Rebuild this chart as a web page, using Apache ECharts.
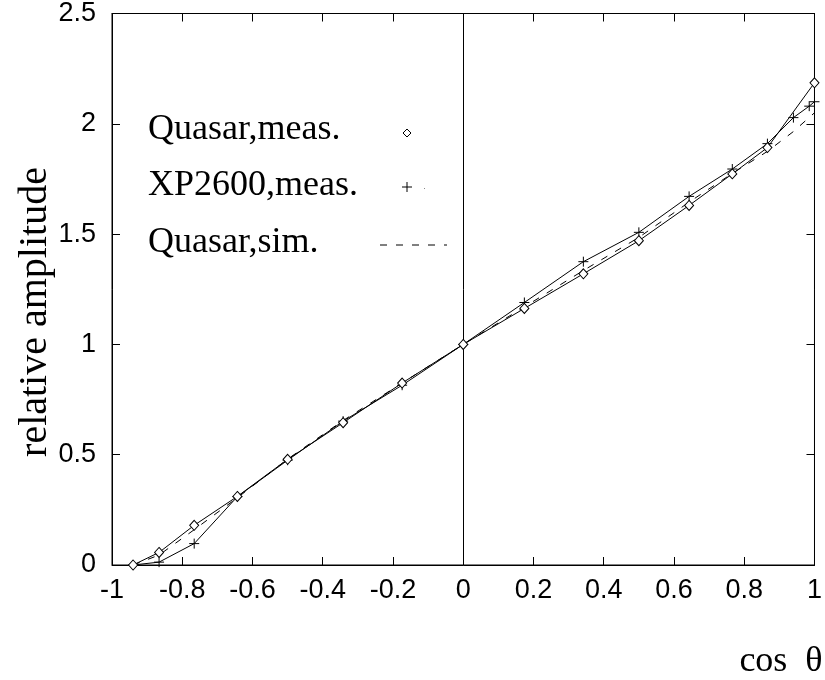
<!DOCTYPE html>
<html><head><meta charset="utf-8">
<script src="https://cdn.jsdelivr.net/npm/echarts@6/dist/echarts.min.js"></script>
<style>html,body{margin:0;padding:0;background:#fff}#c{width:825px;height:680px}</style>
</head><body><div id="c"></div>
<script>
const quasarMeasX = [-0.940, -0.866, -0.766, -0.643, -0.500, -0.342, -0.174, 0, 0.174, 0.342, 0.500, 0.643, 0.766, 0.866, 1.000];
const quasarMeas  = [0.0, 0.057, 0.18, 0.311, 0.479, 0.645, 0.825, 1.0, 1.163, 1.32, 1.47, 1.63, 1.773, 1.892, 2.186];
const xp2600X = [-0.940, -0.866, -0.766, -0.643, -0.500, -0.342, -0.174, 0, 0.174, 0.342, 0.500, 0.643, 0.766, 0.866, 0.940, 0.985, 1.000];
const xp2600Meas = [0.0, 0.013, 0.097, 0.31, 0.475, 0.652, 0.815, 1.0, 1.19, 1.375, 1.508, 1.671, 1.795, 1.91, 2.028, 2.08, 2.10];
const quasarSimX = [-0.940, -0.866, -0.766, -0.643, -0.500, -0.342, -0.174, 0, 0.174, 0.342, 0.500, 0.643, 0.766, 0.866, 0.940, 1.000];
const quasarSim = [0.0, 0.045, 0.16, 0.305, 0.48, 0.655, 0.825, 1.0, 1.17, 1.335, 1.485, 1.645, 1.775, 1.875, 1.965, 2.05];
const legendNames = ['Quasar,meas.', 'XP2600,meas.', 'Quasar,sim.'];
const xTitle = 'cos  θ';
const yTitle = 'relative amplitude';

const crossPath = 'path://M0,5L10,5M5,0L5,10';
function pairs(xs, ys){ return xs.map((x,i)=>[x, ys[i]]); }

const chart = echarts.init(document.getElementById('c'), null, {renderer:'canvas'});
const tickStyle = {show:true, inside:true, length:8, lineStyle:{color:'#000', width:1}};
const sansLabel = {color:'#000', fontFamily:'"Liberation Sans", Arial, sans-serif', fontSize:27};
chart.setOption({
  animation:false,
  backgroundColor:'#fff',
  grid:{left:112, right:6, top:7, bottom:115, show:true, borderColor:'#000', borderWidth:1, containLabel:false},
  xAxis:[
    {type:'value', min:-1, max:1, interval:0.2, position:'bottom',
     axisLine:{show:true, onZero:false, lineStyle:{color:'#000', width:1}},
     axisTick:tickStyle, splitLine:{show:false},
     axisLabel:Object.assign({margin:12}, sansLabel)},
    {type:'value', min:-1, max:1, interval:0.2, position:'top',
     axisLine:{show:true, onZero:false, lineStyle:{color:'#000'}},
     axisTick:tickStyle, splitLine:{show:false}, axisLabel:{show:false}}
  ],
  yAxis:[
    {type:'value', min:0, max:2.5, interval:0.5, position:'left',
     axisLine:{show:true, onZero:false, lineStyle:{color:'#000', width:1}},
     axisTick:tickStyle, splitLine:{show:false},
     axisLabel:Object.assign({margin:16}, sansLabel)},
    {type:'value', min:0, max:2.5, interval:0.5, position:'right',
     axisLine:{show:true, onZero:false, lineStyle:{color:'#000'}},
     axisTick:tickStyle, splitLine:{show:false}, axisLabel:{show:false}}
  ],
  series:[
    {name:legendNames[0], type:'line', data:pairs(quasarMeasX, quasarMeas),
     symbol:'diamond', symbolSize:[9,10], showAllSymbol:true,
     lineStyle:{color:'#000', width:1},
     itemStyle:{color:'#fff', borderColor:'#000', borderWidth:1},
     z:5,
     markLine:{silent:true, symbol:'none', label:{show:false},
       lineStyle:{color:'#000', width:1, type:'solid'}, data:[{xAxis:0}]}},
    {name:legendNames[1], type:'line', data:pairs(xp2600X, xp2600Meas),
     symbol:crossPath, symbolSize:10, showAllSymbol:true,
     lineStyle:{color:'#000', width:1},
     itemStyle:{color:'none', borderColor:'#000', borderWidth:1}, z:4},
    {name:legendNames[2], type:'line', data:pairs(quasarSimX, quasarSim),
     symbol:'none',
     lineStyle:{color:'#000', width:1, type:[7,9]}, z:3}
  ],
  graphic:[
    {type:'text', left:148, top:112, style:{text:legendNames[0], fill:'#000', font:'36px "Liberation Serif"'}},
    {type:'text', left:148, top:168, style:{text:legendNames[1], fill:'#000', font:'36px "Liberation Serif"'}},
    {type:'text', left:148, top:225, style:{text:legendNames[2], fill:'#000', font:'36px "Liberation Serif"'}},
    {type:'polygon', shape:{points:[[407,129],[411,133],[407,137],[403,133]]}, style:{fill:'#fff', stroke:'#000', lineWidth:1}},
    {type:'line', shape:{x1:402,y1:187,x2:412,y2:187}, style:{stroke:'#000', lineWidth:1}},
    {type:'line', shape:{x1:407,y1:182,x2:407,y2:192}, style:{stroke:'#000', lineWidth:1}},
    {type:'rect', shape:{x:424,y:188,width:1,height:1}, style:{fill:'#888'}},
    {type:'line', shape:{x1:380,y1:245,x2:447,y2:245}, style:{stroke:'#000', lineWidth:1, lineDash:[7,9]}},
    {type:'text', x:35, y:312, rotation:Math.PI/2, style:{text:yTitle, fill:'#000', font:'40px "Liberation Serif"', align:'center', verticalAlign:'middle'}},
    {type:'text', x:781, y:662, style:{text:xTitle, fill:'#000', font:'36px "Liberation Serif"', align:'center', verticalAlign:'middle'}}
  ]
});
</script></body></html>
